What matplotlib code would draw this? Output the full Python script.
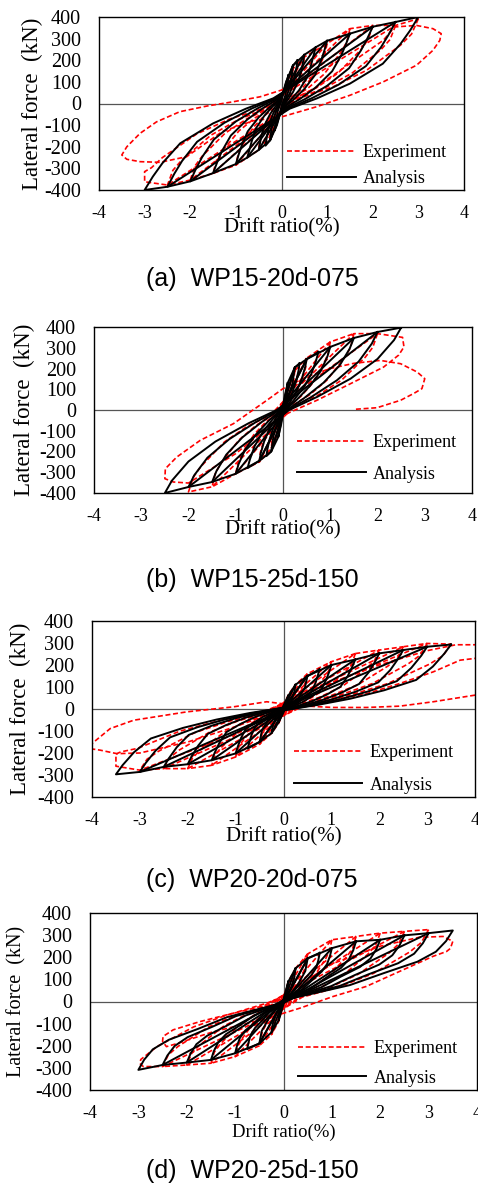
"""
Hysteresis curves, lateral force vs drift ratio: experiment vs analysis,
four wall specimens stacked vertically (a)-(d).
"""

import numpy as np
import matplotlib
matplotlib.use("Agg")
import matplotlib.pyplot as plt

plt.rcParams["axes.unicode_minus"] = False

SERIF = "Liberation Serif"
SANS = "Liberation Sans"

# ---------------------------------------------------------------------------
# Data: each loop is a list of (drift %, force kN) points
# ---------------------------------------------------------------------------

# (a) WP15-20d-075
A_ANA = [
    [(3, 400), (2.82, 338), (2.61, 276), (2.22, 184), (1.5, 92), (0.78, 24), (0.18, -24), (-2.5, -385), (-3, -400),
     (-2.82, -338), (-2.61, -276), (-2.22, -184), (-1.5, -92), (-0.78, -24), (-0.18, 24), (2.5, 377), (3, 400)],
    [(2.5, 377), (2.35, 319), (2.18, 260), (1.85, 173), (1.25, 87), (0.65, 23), (0.15, -23), (-2, -360), (-2.5, -385),
     (-2.35, -325), (-2.18, -266), (-1.85, -177), (-1.25, -89), (-0.65, -23), (-0.15, 23), (2, 355), (2.5, 377)],
    [(2, 355), (1.88, 300), (1.74, 245), (1.48, 163), (1, 82), (0.52, 21), (0.12, -21), (-1.5, -322), (-2, -360),
     (-1.88, -304), (-1.74, -248), (-1.48, -166), (-1, -83), (-0.52, -22), (-0.12, 22), (1.5, 323), (2, 355)],
    [(1.5, 323), (1.41, 273), (1.31, 223), (1.11, 149), (0.75, 74), (0.39, 19), (0.09, -19), (-1, -280), (-1.5, -322),
     (-1.41, -272), (-1.31, -222), (-1.11, -148), (-0.75, -74), (-0.39, -19), (-0.09, 19), (1, 290), (1.5, 323)],
    [(1, 290), (0.94, 245), (0.87, 200), (0.74, 133), (0.5, 67), (0.26, 17), (0.06, -17), (-0.75, -250), (-1, -280),
     (-0.94, -237), (-0.87, -193), (-0.74, -129), (-0.5, -64), (-0.26, -17), (-0.06, 17), (0.75, 260), (1, 290)],
    [(0.75, 260), (0.7, 220), (0.65, 179), (0.56, 120), (0.38, 60), (0.2, 16), (0.05, -16), (-0.5, -215), (-0.75, -250),
     (-0.7, -211), (-0.65, -173), (-0.56, -115), (-0.38, -58), (-0.2, -15), (-0.05, 15), (0.5, 225), (0.75, 260)],
    [(0.5, 225), (0.47, 190), (0.44, 155), (0.37, 104), (0.25, 52), (0.13, 14), (0.03, -14), (-0.25, -170), (-0.5, -215),
     (-0.47, -182), (-0.44, -148), (-0.37, -99), (-0.25, -49), (-0.13, -13), (-0.03, 13), (0.25, 175), (0.5, 225)],
    [(0.35, 200), (0.33, 168), (0.3, 138), (0.26, 92), (0.18, 46), (0.09, 12), (0.02, -12), (-0.25, -170),
     (-0.35, -195), (-0.33, -165), (-0.3, -135), (-0.26, -90), (-0.18, -45), (-0.09, -12), (-0.02, 12),
     (0.25, 175), (0.35, 200)],
    [(0.25, 175), (0.235, 148), (0.22, 121), (0.185, 80), (0.125, 40), (0.065, 10), (0.015, -10), (-0.1, -100),
     (-0.25, -170), (-0.235, -144), (-0.22, -117), (-0.185, -78), (-0.125, -39), (-0.065, -10), (-0.015, 10),
     (0.1, 100), (0.25, 175)],
    [(0.15, 130), (0.13, 90), (0.08, 35), (0.01, -8), (-0.05, -60), (-0.15, -125), (-0.13, -86), (-0.08, -34),
     (-0.01, 8), (0.05, 60), (0.15, 130)],
]
A_EXP = [
    [(3, 392), (2.85, 321), (2.61, 270), (1.86, 153), (1.14, 78), (0.39, 24), (0, -39), (-2.5, -377), (-3, -362),
     (-3, -315), (-2.85, -297), (-2.61, -250), (-1.86, -141), (-1.14, -72), (-0.39, -22), (0, 36), (2.5, 361), (3, 392)],
    [(2.5, 361), (2.38, 296), (2.18, 249), (1.55, 141), (0.95, 72), (0.33, 22), (0, -36), (-2, -354), (-2.5, -377),
     (-2.38, -309), (-2.18, -260), (-1.55, -147), (-0.95, -75), (-0.33, -23), (0, 38), (2, 361), (2.5, 361)],
    [(2, 361), (1.9, 296), (1.74, 249), (1.24, 141), (0.76, 72), (0.26, 22), (0, -36), (-1.5, -323), (-2, -354),
     (-1.9, -290), (-1.74, -244), (-1.24, -138), (-0.76, -71), (-0.26, -21), (0, 35), (1.5, 346), (2, 361)],
    [(1.5, 346), (1.43, 284), (1.31, 239), (0.93, 135), (0.57, 69), (0.2, 21), (0, -35), (-1, -285), (-1.5, -323),
     (-1.43, -265), (-1.31, -223), (-0.93, -126), (-0.57, -65), (-0.2, -19), (0, 32), (1, 277), (1.5, 346)],
    [(1, 277), (0.95, 227), (0.87, 191), (0.62, 108), (0.38, 55), (0.13, 17), (0, -28), (-0.5, -215), (-1, -285),
     (-0.95, -234), (-0.87, -197), (-0.62, -111), (-0.38, -57), (-0.13, -17), (0, 29), (0.5, 215), (1, 277)],
    [(0.5, 215), (0.48, 176), (0.44, 148), (0.31, 84), (0.19, 43), (0.07, 13), (0, -22), (-0.25, -150), (-0.5, -215),
     (-0.48, -176), (-0.44, -148), (-0.31, -84), (-0.19, -43), (-0.07, -13), (0, 22), (0.25, 160), (0.5, 215)],
    [(0.25, 160), (0.22, 110), (0.15, 60), (0.05, 15), (0, -15), (-0.1, -85), (-0.25, -150),
     (-0.22, -103), (-0.15, -56), (-0.05, -14), (0, 16), (0.1, 90), (0.25, 160)],
    [(0, -15), (0.77, 77), (1.5, 185), (2.23, 292), (2.48, 354), (2.96, 361), (3.32, 346), (3.5, 323), (3.47, 292),
     (3.32, 246), (2.96, 177), (2.23, 100), (1.5, 38), (0.77, -15), (0, -62), (-0.62, -80), (-1.3, -130),
     (-2.08, -246), (-2.66, -272), (-3.1, -269), (-3.39, -258), (-3.5, -238), (-3.39, -200), (-3.1, -138),
     (-2.74, -85), (-2.23, -38), (-1.64, -12), (-1.06, 8), (-0.47, 31), (0, 62), (0.4, 110)],
]

# (b) WP15-25d-150
B_ANA = [
    [(2.5, 397), (2.35, 337), (2, 246), (1.43, 151), (0.73, 64), (0.13, 0), (-2, -371), (-2.5, -400),
     (-2.35, -340), (-2, -248), (-1.43, -152), (-0.73, -64), (-0.13, 0), (2, 376), (2.5, 397)],
    [(2, 376), (1.88, 320), (1.6, 233), (1.14, 143), (0.58, 60), (0.1, 0), (-1.5, -347), (-2, -371),
     (-1.88, -315), (-1.6, -230), (-1.14, -141), (-0.58, -59), (-0.1, 0), (1.5, 347), (2, 376)],
    [(1.5, 347), (1.41, 295), (1.2, 215), (0.86, 132), (0.44, 56), (0.08, 0), (-1, -307), (-1.5, -347),
     (-1.41, -295), (-1.2, -215), (-0.86, -132), (-0.44, -56), (-0.08, 0), (1, 304), (1.5, 347)],
    [(1, 304), (0.94, 258), (0.8, 188), (0.57, 116), (0.29, 49), (0.05, 0), (-0.5, -245), (-1, -307),
     (-0.94, -261), (-0.8, -190), (-0.57, -117), (-0.29, -49), (-0.05, 0), (0.5, 245), (1, 304)],
    [(0.75, 280), (0.7, 238), (0.6, 174), (0.43, 106), (0.22, 45), (0.04, 0), (-0.5, -245), (-0.75, -280),
     (-0.7, -238), (-0.6, -174), (-0.43, -106), (-0.22, -45), (-0.04, 0), (0.5, 245), (0.75, 280)],
    [(0.5, 245), (0.47, 208), (0.4, 152), (0.29, 93), (0.15, 39), (0.03, 0), (-0.25, -200), (-0.5, -245),
     (-0.47, -208), (-0.4, -152), (-0.29, -93), (-0.15, -39), (-0.03, 0), (0.25, 205), (0.5, 245)],
    [(0.35, 225), (0.33, 191), (0.28, 140), (0.2, 86), (0.1, 36), (0.02, 0), (-0.25, -200), (-0.35, -222),
     (-0.33, -189), (-0.28, -138), (-0.2, -84), (-0.1, -36), (-0.02, 0), (0.25, 205), (0.35, 225)],
    [(0.25, 205), (0.2, 127), (0.07, 33), (0.01, 0), (-0.1, -130), (-0.25, -200),
     (-0.2, -124), (-0.07, -32), (-0.01, 0), (0.1, 130), (0.25, 205)],
    [(0.1, 130), (0.08, 81), (0.03, 21), (-0.04, -70), (-0.1, -130),
     (-0.08, -81), (-0.03, -21), (0.04, 70), (0.1, 130)],
]
B_EXP = [
    [(0, 40), (2, 368), (2.53, 350), (2.56, 304), (2.45, 265), (2.13, 207), (1.43, 127), (0.72, 47), (0, -26),
     (-1, -210), (-2, -352), (-2.32, -347), (-2.5, -331), (-2.49, -283), (-2.25, -227), (-1.75, -146),
     (-1.05, -66), (-0.34, 47), (0, 103), (0.5, 160), (1, 200), (1.5, 225), (2.06, 239), (2.49, 223),
     (2.84, 183), (3.0, 151), (2.94, 103), (2.77, 80), (2.49, 47), (1.99, 11), (1.5, 3)],
    [(2, 368), (1.9, 302), (1.74, 254), (1.24, 144), (0.76, 74), (0.26, 22), (0, -37), (-1.5, -370), (-2, -395),
     (-1.9, -324), (-1.74, -273), (-1.24, -154), (-0.76, -79), (-0.26, -24), (0, 40), (1.5, 368), (2, 368)],
    [(1.5, 368), (1.43, 302), (1.31, 254), (0.93, 144), (0.57, 74), (0.2, 22), (0, -37), (-1, -307), (-1.5, -370),
     (-1.43, -303), (-1.31, -255), (-0.93, -144), (-0.57, -74), (-0.2, -22), (0, 37), (1, 328), (1.5, 368)],
    [(1, 328), (0.95, 269), (0.87, 226), (0.62, 128), (0.38, 66), (0.13, 20), (0, -33), (-0.5, -250), (-1, -307),
     (-0.95, -252), (-0.87, -212), (-0.62, -120), (-0.38, -61), (-0.13, -18), (0, 31), (0.5, 250), (1, 328)],
    [(0.5, 250), (0.48, 205), (0.44, 173), (0.31, 98), (0.19, 50), (0.07, 15), (0, -25), (-0.25, -185), (-0.5, -250),
     (-0.48, -205), (-0.44, -173), (-0.31, -98), (-0.19, -50), (-0.07, -15), (0, 25), (0.25, 190), (0.5, 250)],
    [(0.25, 190), (0.22, 131), (0.15, 70), (0.05, 15), (0, -18), (-0.1, -110), (-0.25, -185),
     (-0.22, -128), (-0.15, -68), (-0.05, -15), (0, 18), (0.1, 110), (0.25, 190)],
]

# (c) WP20-20d-075
C_ANA = [
    [(3.5, 293), (3.36, 252), (3.12, 193), (2.77, 132), (2.1, 85), (1.4, 47), (0.7, 18), (0, -6), (-3, -286),
     (-3.5, -297), (-3.36, -255), (-3.12, -196), (-2.77, -134), (-2.1, -86), (-1.4, -48), (-0.7, -18), (0, 6),
     (3, 283), (3.5, 293)],
    [(3, 283), (2.88, 243), (2.67, 187), (2.37, 127), (1.8, 82), (1.2, 45), (0.6, 17), (0, -6), (-2.5, -263),
     (-3, -286), (-2.88, -246), (-2.67, -189), (-2.37, -129), (-1.8, -83), (-1.2, -46), (-0.6, -17), (0, 6),
     (2.5, 268), (3, 283)],
    [(2.5, 268), (2.4, 230), (2.23, 177), (1.98, 121), (1.5, 78), (1, 43), (0.5, 16), (0, -5), (-2, -251),
     (-2.5, -263), (-2.4, -226), (-2.23, -174), (-1.98, -118), (-1.5, -76), (-1, -42), (-0.5, -16), (0, 5),
     (2, 253), (2.5, 268)],
    [(2, 253), (1.92, 218), (1.78, 167), (1.58, 114), (1.2, 73), (0.8, 40), (0.4, 15), (0, -5), (-1.5, -233),
     (-2, -251), (-1.92, -216), (-1.78, -166), (-1.58, -113), (-1.2, -73), (-0.8, -40), (-0.4, -15), (0, 5),
     (1.5, 225), (2, 253)],
    [(1.5, 225), (1.44, 194), (1.34, 149), (1.19, 101), (0.9, 65), (0.6, 36), (0.3, 14), (0, -5), (-1, -202),
     (-1.5, -233), (-1.44, -200), (-1.34, -154), (-1.19, -105), (-0.9, -68), (-0.6, -37), (-0.3, -14), (0, 5),
     (1, 200), (1.5, 225)],
    [(1, 200), (0.96, 172), (0.89, 132), (0.79, 90), (0.6, 58), (0.4, 32), (0.2, 12), (0, -4), (-0.5, -150),
     (-1, -202), (-0.96, -174), (-0.89, -133), (-0.79, -91), (-0.6, -59), (-0.4, -32), (-0.2, -12), (0, 4),
     (0.5, 150), (1, 200)],
    [(0.75, 180), (0.72, 155), (0.67, 119), (0.59, 81), (0.45, 52), (0.3, 29), (0.15, 11), (0, -4), (-0.5, -150),
     (-0.75, -180), (-0.72, -155), (-0.67, -119), (-0.59, -81), (-0.45, -52), (-0.3, -29), (-0.15, -11), (0, 4),
     (0.5, 150), (0.75, 180)],
    [(0.5, 150), (0.45, 99), (0.3, 44), (0.1, 9), (0, -3), (-0.25, -110), (-0.5, -150),
     (-0.45, -99), (-0.3, -44), (-0.1, -9), (0, 3), (0.25, 110), (0.5, 150)],
    [(0.25, 110), (0.22, 73), (0.15, 32), (0.05, 7), (-0.1, -60), (-0.25, -110),
     (-0.22, -73), (-0.15, -32), (-0.05, -7), (0.1, 60), (0.25, 110)],
    [(0.1, 60), (0.08, 35), (0.03, 8), (-0.03, -25), (-0.1, -60), (-0.08, -35), (-0.03, -8), (0.03, 25), (0.1, 60)],
]
C_EXP = [
    [(3.5, 295), (3.33, 242), (3.05, 204), (2.17, 115), (1.33, 59), (0.46, 18), (0, -30), (-3, -278), (-3.5, -260),
     (-3.5, -205), (-3.4, -195), (-3.05, -179), (-2.17, -101), (-1.33, -52), (-0.46, -16), (0, 26), (3, 298),
     (3.5, 295)],
    [(3, 298), (2.85, 244), (2.61, 206), (1.86, 116), (1.14, 60), (0.39, 18), (0, -30), (-2.5, -271), (-3, -278),
     (-2.85, -228), (-2.61, -192), (-1.86, -108), (-1.14, -56), (-0.39, -17), (0, 28), (2.5, 283), (3, 298)],
    [(2.5, 283), (2.38, 232), (2.18, 195), (1.55, 110), (0.95, 57), (0.33, 17), (0, -28), (-2, -271), (-2.5, -271),
     (-2.38, -222), (-2.18, -187), (-1.55, -106), (-0.95, -54), (-0.33, -16), (0, 27), (2, 268), (2.5, 283)],
    [(2, 268), (1.9, 220), (1.74, 185), (1.24, 105), (0.76, 54), (0.26, 16), (0, -27), (-1.5, -256), (-2, -271),
     (-1.9, -222), (-1.74, -187), (-1.24, -106), (-0.76, -54), (-0.26, -16), (0, 27), (1.5, 252), (2, 268)],
    [(1.5, 252), (1.43, 207), (1.31, 174), (0.93, 98), (0.57, 50), (0.2, 15), (0, -25), (-1, -218), (-1.5, -256),
     (-1.43, -210), (-1.31, -177), (-0.93, -100), (-0.57, -51), (-0.2, -15), (0, 26), (1, 215), (1.5, 252)],
    [(1, 215), (0.95, 176), (0.87, 148), (0.62, 84), (0.38, 43), (0.13, 13), (0, -22), (-0.5, -160), (-1, -218),
     (-0.95, -179), (-0.87, -150), (-0.62, -85), (-0.38, -44), (-0.13, -13), (0, 22), (0.5, 160), (1, 215)],
    [(0.5, 160), (0.44, 110), (0.31, 62), (0.07, 10), (0, -16), (-0.25, -110), (-0.5, -160),
     (-0.44, -110), (-0.31, -62), (-0.07, -10), (0, 16), (0.25, 110), (0.5, 160)],
    [(0.25, 110), (0.22, 76), (0.15, 43), (0.03, 7), (0, -11), (-0.1, -65), (-0.25, -110),
     (-0.22, -76), (-0.15, -43), (-0.03, -7), (0, 11), (0.1, 65), (0.25, 110)],
    [(0, 30), (1, 120), (2, 200), (3, 265), (3.6, 292), (4.0, 292), (4.25, 285), (4.3, 255), (4.0, 230),
     (3.69, 222), (3.13, 169), (2.43, 116), (1.74, 70), (1.04, 40), (0.35, 17), (0, 0), (-1, -80), (-2, -150),
     (-3, -200), (-3.48, -203), (-3.83, -187), (-4.05, -180), (-4.0, -157), (-3.62, -89), (-3.13, -51),
     (-2.02, -13), (-1.04, 10), (-0.35, 33), (0.3, 15), (1.04, 7), (1.74, 7), (2.43, 13), (3.13, 33), (4, 63),
     (4.3, 75)],
]

# (d) WP20-25d-150
D_ANA = [
    [(3, 309), (2.88, 263), (2.7, 216), (2.37, 173), (1.77, 124), (1.17, 71), (0.57, 37), (0, 6), (-2.5, -287),
     (-3, -309), (-2.88, -263), (-2.7, -216), (-2.37, -173), (-1.77, -124), (-1.17, -71), (-0.57, -37), (0, -6),
     (2.5, 299), (3, 309)],
    [(0, -6), (3, 309), (3.5, 321), (3.36, 273), (3.15, 225), (2.77, 180), (2.07, 128), (1.37, 74), (0.67, 39),
     (0, 6)],
    [(2.5, 299), (2.4, 254), (2.25, 209), (1.98, 167), (1.48, 120), (0.98, 69), (0.48, 36), (0, 6), (-2, -276),
     (-2.5, -287), (-2.4, -244), (-2.25, -201), (-1.98, -161), (-1.48, -115), (-0.98, -66), (-0.48, -34), (0, -6),
     (2, 279), (2.5, 299)],
    [(2, 279), (1.92, 237), (1.8, 195), (1.58, 156), (1.18, 112), (0.78, 64), (0.38, 33), (0, 6), (-1.5, -264),
     (-2, -276), (-1.92, -235), (-1.8, -193), (-1.58, -155), (-1.18, -110), (-0.78, -63), (-0.38, -33), (0, -6),
     (1.5, 272), (2, 279)],
    [(1.5, 272), (1.44, 231), (1.35, 190), (1.19, 152), (0.89, 109), (0.59, 63), (0.29, 33), (0, 5), (-1, -234),
     (-1.5, -264), (-1.44, -224), (-1.35, -185), (-1.19, -148), (-0.89, -106), (-0.59, -61), (-0.29, -32), (0, -5),
     (1, 241), (1.5, 272)],
    [(1, 241), (0.96, 205), (0.9, 169), (0.79, 135), (0.59, 96), (0.39, 55), (0.19, 29), (0, 5), (-0.5, -190),
     (-1, -234), (-0.96, -199), (-0.9, -164), (-0.79, -131), (-0.59, -94), (-0.39, -54), (-0.19, -28), (0, -5),
     (0.5, 195), (1, 241)],
    [(0.75, 220), (0.72, 187), (0.68, 154), (0.59, 123), (0.44, 88), (0.29, 51), (0.14, 26), (0, 4), (-0.5, -190),
     (-0.75, -215), (-0.72, -183), (-0.68, -151), (-0.59, -120), (-0.44, -86), (-0.29, -49), (-0.14, -26), (0, -4),
     (0.5, 195), (0.75, 220)],
    [(0.5, 195), (0.45, 137), (0.3, 78), (0.1, 23), (0, 4), (-0.25, -140), (-0.5, -190),
     (-0.45, -133), (-0.3, -76), (-0.1, -23), (0, -4), (0.25, 150), (0.5, 195)],
    [(0.25, 150), (0.22, 105), (0.15, 60), (0.05, 18), (0, 3), (-0.1, -85), (-0.25, -140),
     (-0.22, -98), (-0.15, -56), (-0.05, -17), (0, -3), (0.1, 90), (0.25, 150)],
    [(0.1, 90), (0.08, 55), (0.03, 12), (-0.03, -35), (-0.1, -85), (-0.08, -52), (-0.03, -12), (0.03, 35),
     (0.1, 90)],
]
D_EXP = [
    [(3, 325), (2.85, 267), (2.61, 224), (1.86, 127), (1.14, 65), (0.39, 20), (0, -33), (-2.5, -294), (-2.9, -294),
     (-2.97, -280), (-2.95, -262), (-2.61, -203), (-1.86, -115), (-1.14, -59), (-0.39, -18), (0, 29), (2.5, 317),
     (3, 325)],
    [(2.5, 317), (2.38, 260), (2.18, 219), (1.55, 124), (0.95, 63), (0.33, 19), (0, -32), (-2, -287), (-2.5, -294),
     (-2.38, -241), (-2.18, -203), (-1.55, -115), (-0.95, -59), (-0.33, -18), (0, 29), (2, 309), (2.5, 317)],
    [(2, 309), (1.9, 253), (1.74, 213), (1.24, 121), (0.76, 62), (0.26, 19), (0, -31), (-1.5, -279), (-2, -287),
     (-1.9, -235), (-1.74, -198), (-1.24, -112), (-0.76, -57), (-0.26, -17), (0, 29), (1.5, 294), (2, 309)],
    [(1.5, 294), (1.43, 241), (1.31, 203), (0.93, 115), (0.57, 59), (0.2, 18), (0, -29), (-1, -249), (-1.5, -279),
     (-1.43, -229), (-1.31, -193), (-0.93, -109), (-0.57, -56), (-0.2, -17), (0, 28), (1, 279), (1.5, 294)],
    [(1, 279), (0.95, 229), (0.87, 193), (0.62, 109), (0.38, 56), (0.13, 17), (0, -28), (-0.5, -200), (-1, -249),
     (-0.95, -204), (-0.87, -172), (-0.62, -97), (-0.38, -50), (-0.13, -15), (0, 25), (0.5, 215), (1, 279)],
    [(0.5, 215), (0.44, 148), (0.31, 84), (0.07, 13), (0, -22), (-0.25, -150), (-0.5, -200),
     (-0.44, -138), (-0.31, -78), (-0.07, -12), (0, 20), (0.25, 150), (0.5, 215)],
    [(0.25, 150), (0.22, 103), (0.15, 56), (0.03, 9), (0, -15), (-0.1, -90), (-0.25, -150),
     (-0.22, -103), (-0.15, -56), (-0.03, -9), (0, 15), (0.1, 90), (0.25, 150)],
    [(0, 29), (1, 170), (2, 250), (2.8, 290), (3.3, 294), (3.5, 272), (3.45, 240), (3.37, 226), (3.09, 204),
     (2.4, 136), (1.71, 68), (1.03, 23), (0.34, -30), (0, -53), (-0.5, -85), (-1.5, -140), (-2.2, -190),
     (-2.42, -204), (-2.5, -180), (-2.49, -158), (-2.28, -128), (-1.73, -91), (-1.04, -53), (-0.35, -8), (0, 23),
     (0.4, 60)],
]

X_TICKS = [-4, -3, -2, -1, 0, 1, 2, 3, 4]
Y_TICKS = [-400, -300, -200, -100, 0, 100, 200, 300, 400]
CAPTIONS = ["(a)  WP15-20d-075", "(b)  WP15-25d-150", "(c)  WP20-20d-075", "(d)  WP20-25d-150"]

# layout in pixels (figure 478 x 1184): left, top, right, bottom of the plot box
BOXES = [(99, 17, 464, 190), (94, 327, 472, 493), (92, 621, 475, 797), (90, 913, 477, 1090)]
XLABEL_OFF = [38, 37, 40, 42]        # px below the box
YLABEL_OFF = [67, 70, 72, 73]        # px left of the box
XLABEL_SIZE = [15, 15, 15, 13.5]
YLABEL_SIZE = [16.5, 16.5, 16.5, 14.5]
LEGEND_XY = [(0.515, 0.139), (0.537, 0.208), (0.527, 0.159), (0.537, 0.15)]   # centre of the two rows
LEGEND_SPACING = [0.5, 0.8, 0.85, 0.7]
CAPTION_BASE = [286, 587, 887, 1178]

W, H = 478, 1184


def draw_loops(ax, loops, label, **style):
    for i, loop in enumerate(loops):
        pts = np.array(loop, dtype=float)
        ax.plot(pts[:, 0], pts[:, 1], label=label if i == 0 else "_nolegend_", **style)


def setup_panel(ax, k):
    ax.set_xlim(-4, 4)
    ax.set_ylim(-400, 400)
    ax.set_xticks(X_TICKS)
    ax.set_yticks(Y_TICKS)
    ax.set_xticklabels([str(v) for v in X_TICKS], family=SERIF, fontsize=13)
    ax.set_yticklabels([str(v) for v in Y_TICKS], family=SERIF, fontsize=14.5)
    ax.tick_params(axis="x", length=0, pad=10.5)
    ax.tick_params(axis="y", length=0, pad=13)
    for sp in ax.spines.values():
        sp.set_linewidth(1.0)
        sp.set_color("black")
    ax.axhline(0, color="#555555", lw=0.9, zorder=1)
    ax.axvline(0, color="#555555", lw=0.9, zorder=1)

    left, top, right, bottom = BOXES[k]
    w, h = right - left, bottom - top
    ax.set_xlabel("Drift ratio(%)", family=SERIF, fontsize=XLABEL_SIZE[k], va="center")
    ax.xaxis.set_label_coords(0.5, -XLABEL_OFF[k] / h)
    ax.set_ylabel("Lateral force  (kN)", family=SERIF, fontsize=YLABEL_SIZE[k], va="center")
    ax.yaxis.set_label_coords(-YLABEL_OFF[k] / w, 0.5)


fig = plt.figure(figsize=(W / 100, H / 100), dpi=100)

panels = [(A_EXP, A_ANA), (B_EXP, B_ANA), (C_EXP, C_ANA), (D_EXP, D_ANA)]
for k, (exp, ana) in enumerate(panels):
    left, top, right, bottom = BOXES[k]
    ax = fig.add_axes([left / W, 1 - bottom / H, (right - left) / W, (bottom - top) / H])
    setup_panel(ax, k)

    draw_loops(ax, exp, "Experiment", color="red", lw=1.2, dashes=(3, 1.6), zorder=2)
    draw_loops(ax, ana, "Analysis", color="black", lw=1.4, zorder=3)

    ax.legend(loc="center left", bbox_to_anchor=LEGEND_XY[k], frameon=False,
              prop={"family": SERIF, "size": 13}, handlelength=3.8, handletextpad=0.4,
              labelspacing=LEGEND_SPACING[k], borderpad=0, borderaxespad=0)

    fig.text(252 / W, 1 - CAPTION_BASE[k] / H, CAPTIONS[k], ha="center", va="baseline",
             family=SANS, fontsize=18)

fig.savefig("out.png", dpi=100)
